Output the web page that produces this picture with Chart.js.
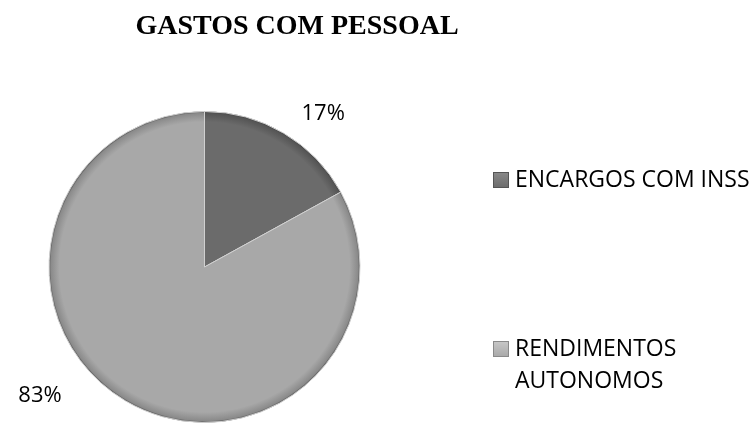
<!DOCTYPE html>
<html>
<head>
<meta charset="utf-8">
<script src="https://cdn.jsdelivr.net/npm/chart.js@4/dist/chart.umd.min.js"></script>
<style>
  html, body { margin: 0; padding: 0; background: #fff; overflow: hidden; }
  #wrap { width: 755px; height: 423px; position: relative; }
</style>
</head>
<body>
<div id="wrap"><canvas id="myChart"></canvas></div>
<script>
const titulo = "GASTOS COM PESSOAL";
const categorias = ["ENCARGOS COM INSS", "RENDIMENTOS AUTONOMOS"];
const valores = [17, 83];
const rotulos = ["17%", "83%"];
const cores = ["#6b6b6b", "#a8a8a8"];
const coresBorda = ["#555555", "#8a8a8a"];

function sombreado(context) {
  const chart = context.chart;
  const area = chart.chartArea;
  const base = cores[context.dataIndex];
  if (!area || !isFinite(area.width) || area.width <= 0) return base;
  const cx = (area.left + area.right) / 2;
  const cy = (area.top + area.bottom) / 2;
  const r = Math.min(area.width, area.height) / 2;
  const g = chart.ctx.createRadialGradient(cx, cy, 0, cx, cy, r);
  g.addColorStop(0, base);
  g.addColorStop(0.93, base);
  g.addColorStop(0.985, coresBorda[context.dataIndex]);
  g.addColorStop(1, "#404040");
  return g;
}

// rótulos, legenda e título desenhados à mão
const extras = {
  id: "extras",
  afterDraw(chart) {
    const ctx = chart.ctx;
    const meta = chart.getDatasetMeta(0);
    const arc0 = meta.data[0];
    const cx = arc0.x, cy = arc0.y, r = arc0.outerRadius;

    ctx.save();
    // título
    ctx.fillStyle = "#000";
    ctx.font = "bold 28px 'Liberation Serif'";
    ctx.textAlign = "center";
    ctx.textBaseline = "middle";
    ctx.fillText(titulo, 297, 27);

    // porcentagens
    const fatores = [[0.763, -0.984], [-1.058, 0.83]];
    ctx.font = "22px 'Open Sans'";
    rotulos.forEach((t, i) => {
      ctx.fillText(t, cx + fatores[i][0] * r, cy + fatores[i][1] * r);
    });

    // legenda
    const linhas = [["ENCARGOS COM INSS"], ["RENDIMENTOS", "AUTONOMOS"]];
    const ys = [180, 349];
    ctx.font = "23px 'Open Sans'";
    ctx.textAlign = "left";
    linhas.forEach((ls, i) => {
      const y = ys[i];
      const g = ctx.createLinearGradient(0, y - 8, 0, y + 8);
      g.addColorStop(0, i === 0 ? "#8a8a8a" : "#c8c8c8");
      g.addColorStop(1, cores[i]);
      ctx.fillStyle = g;
      ctx.fillRect(493, y - 8, 16, 16);
      ctx.strokeStyle = coresBorda[i];
      ctx.lineWidth = 1;
      ctx.strokeRect(493.5, y - 7.5, 15, 15);
      ctx.fillStyle = "#000";
      ls.forEach((l, k) => ctx.fillText(l, 515, y + k * 32));
    });
    ctx.restore();
  }
};

const chart = new Chart(document.getElementById("myChart"), {
  type: "pie",
  data: {
    labels: categorias,
    datasets: [{
      data: valores,
      backgroundColor: sombreado,
      borderColor: ["#d0d0d0", "#d0d0d0"],
      borderWidth: 1
    }]
  },
  options: {
    responsive: true,
    maintainAspectRatio: false,
    animation: false,
    layout: { padding: { left: 48, right: 394, top: 111, bottom: 0 } },
    plugins: {
      legend: { display: false },
      title: { display: false },
      tooltip: { enabled: false }
    }
  },
  plugins: [extras]
});
</script>
</body>
</html>
